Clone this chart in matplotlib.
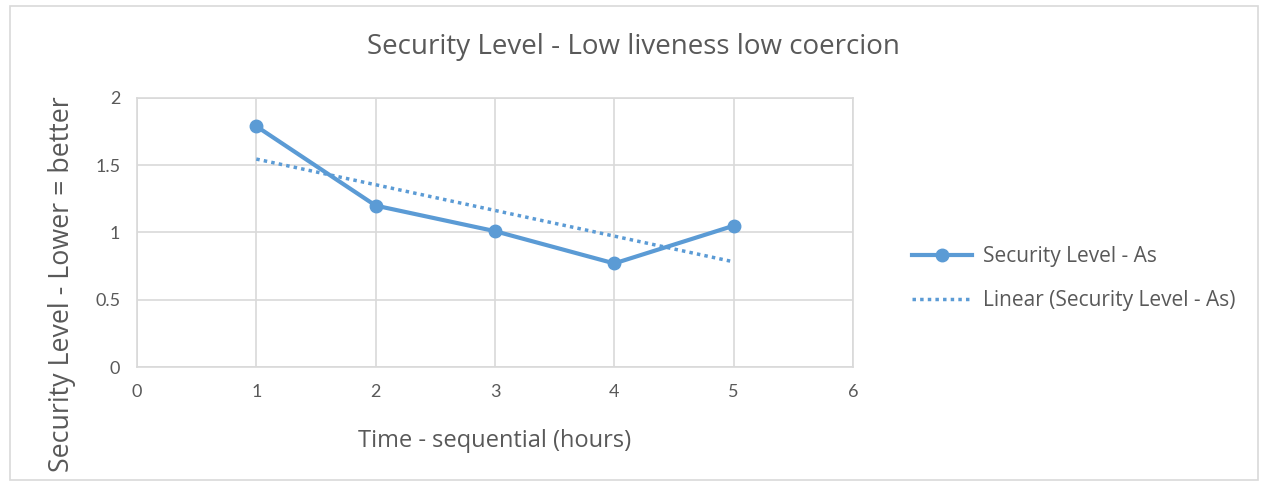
import matplotlib.pyplot as plt
import numpy as np
from matplotlib.patches import Rectangle

plt.rcParams['font.family'] = ['Open Sans', 'DejaVu Sans']

hours = [1, 2, 3, 4, 5]
security_level = [1.79, 1.2, 1.01, 0.77, 1.05]

blue = '#5B9BD5'
grey_text = '#595959'
grid_col = '#D9D9D9'

fig = plt.figure(figsize=(12.67, 4.87), dpi=100)
ax = fig.add_axes([0.1081, 0.2464, 0.5651, 0.5524])

ax.plot(hours, security_level, color=blue, lw=3, marker='o', ms=9,
        label='Security Level - As')

# linear trendline over the series
slope, intercept = np.polyfit(hours, security_level, 1)
hx = np.array([hours[0], hours[-1]])
ax.plot(hx, slope * hx + intercept, color=blue, lw=2.5, ls=(0, (1, 1.2)),
        label='Linear (Security Level - As)')

ax.set_xlim(0, 6)
ax.set_ylim(0, 2)
ax.set_xticks(range(0, 7))
ax.set_yticks([0, 0.5, 1, 1.5, 2])
ax.set_yticklabels(['0', '0.5', '1', '1.5', '2'])
ax.grid(True, color=grid_col, lw=1.2)
ax.set_axisbelow(True)
for s in ax.spines.values():
    s.set_color(grid_col)
    s.set_linewidth(1.2)
ax.tick_params(length=0, labelsize=13, colors=grey_text, pad=12)
for lab in ax.get_xticklabels() + ax.get_yticklabels():
    lab.set_family(['Lato', 'DejaVu Sans'])

fig.text(0.3907, 0.0945, 'Time - sequential (hours)', fontsize=17,
         color=grey_text, ha='center', va='center')
fig.text(0.049, 0.417, 'Security Level - Lower = better', fontsize=19.3,
         color=grey_text, ha='center', va='center', rotation=90)
fig.text(0.5, 0.9035, 'Security Level - Low liveness low coercion', fontsize=20,
         color=grey_text, ha='center', va='center')

fig.legend(loc='center left', bbox_to_anchor=(0.705, 0.428), frameon=False,
           fontsize=15, labelcolor=grey_text, handlelength=2.9,
           handletextpad=0.5, labelspacing=1.1)

fig.patches.append(Rectangle((0.008, 0.015), 0.985, 0.972, transform=fig.transFigure,
                             fill=False, edgecolor='#D9D9D9', lw=1.2))

fig.savefig('out.png', dpi=100)
